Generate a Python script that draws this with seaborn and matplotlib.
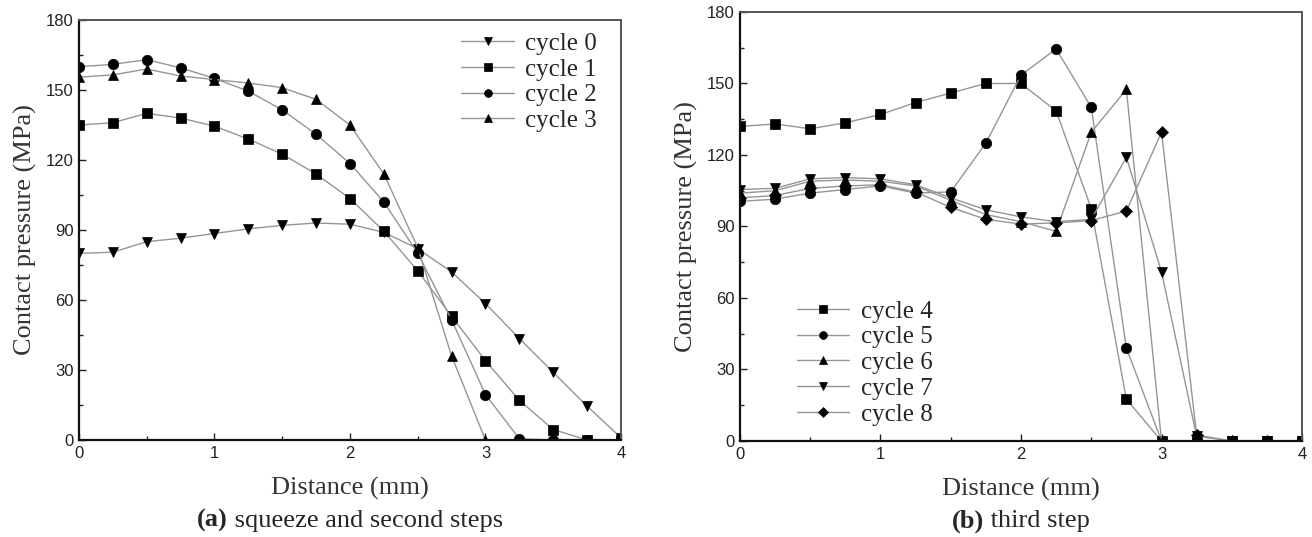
# Contact pressure along the distance for cycles 0-8, two panels

import seaborn as sns
import matplotlib.pyplot as plt
from matplotlib.ticker import MultipleLocator

distance = [0, 0.25, 0.5, 0.75, 1.0, 1.25, 1.5, 1.75, 2.0,
            2.25, 2.5, 2.75, 3.0, 3.25, 3.5, 3.75, 4.0]

# panel (a): squeeze and second steps
cycle0 = [80, 80.5, 85, 86.5, 88.5, 90.5, 92, 93, 92.5, 89, 82, 72, 58.5, 43.5, 29, 14.5, 1]
cycle1 = [135, 136, 140, 138, 134.5, 129, 122.5, 114, 103.5, 89.5, 72.5, 53, 34, 17, 4.5, 0, 0]
cycle2 = [160, 161, 163, 159.5, 155, 149.5, 141.5, 131, 118.5, 102, 80, 51.5, 19.5, 0.5, 0, 0, 0]
cycle3 = [155.5, 156.5, 159, 156, 154.5, 153, 151, 146, 135, 114, 82.5, 36, 0, 0, 0, 0, 0]

# panel (b): third step
cycle4 = [132, 133, 131, 133.5, 137, 142, 146, 150, 150, 138.5, 97.5, 17.5, 0, 0, 0, 0, 0]
cycle5 = [100.5, 101.5, 104, 105.5, 107, 104, 104.5, 125, 153.5, 164.5, 140, 39, 0, 0, 0, 0, 0]
cycle6 = [104, 105, 109, 109.5, 109, 107, 101, 95, 92, 88, 129.5, 147.5, 0, 0, 0, 0, 0]
cycle7 = [105.5, 106, 110, 110.5, 110, 107.5, 102, 97, 94, 92, 93, 119, 71, 2, 0, 0, 0]
cycle8 = [102, 103, 106, 107, 107.5, 104.5, 98, 93, 91, 91.5, 92.5, 96.5, 129.5, 2.5, 0, 0, 0]

labels_a = ["cycle 0", "cycle 1", "cycle 2", "cycle 3"]
labels_b = ["cycle 4", "cycle 5", "cycle 6", "cycle 7", "cycle 8"]

sns.set_style("ticks")
plt.rcParams['font.family'] = ['Liberation Sans', 'DejaVu Sans']
serif = ['Liberation Serif', 'DejaVu Serif']

fig = plt.figure(figsize=(13.12, 5.37), dpi=100)
ax1 = fig.add_axes([0.0602, 0.1806, 0.4131, 0.7821])
ax2 = fig.add_axes([0.564, 0.1788, 0.4284, 0.7989])


def draw(ax, series, markers, labels):
    for y, m, lab in zip(series, markers, labels):
        sns.lineplot(x=distance, y=y, ax=ax, color='#959595', lw=1.0,
                     marker=m, markersize=6.5 if m == 'D' else 7.5,
                     markerfacecolor='black', markeredgecolor='black',
                     markeredgewidth=0.5, label=lab)
    ax.set_xlim(0, 4)
    ax.set_ylim(0, 180)
    ax.xaxis.set_major_locator(MultipleLocator(1))
    ax.xaxis.set_minor_locator(MultipleLocator(0.5))
    ax.yaxis.set_major_locator(MultipleLocator(30))
    ax.yaxis.set_minor_locator(MultipleLocator(15))
    ax.tick_params(which='both', direction='in', colors='#222222', labelsize=12, pad=4)
    ax.tick_params(which='major', length=5, width=1)
    ax.tick_params(which='minor', length=3, width=1)
    for side in ['left', 'bottom']:
        ax.spines[side].set_linewidth(1.6)
        ax.spines[side].set_color('#111111')
    for side in ['top', 'right']:
        ax.spines[side].set_linewidth(1.4)
        ax.spines[side].set_color('#555555')
    ax.set_xlabel("Distance (mm)", family=serif, fontsize=19, color='#333333', labelpad=12)
    ax.set_ylabel("Contact pressure (MPa)", family=serif, fontsize=19, color='#333333', labelpad=6)


draw(ax1, [cycle0, cycle1, cycle2, cycle3], ['v', 's', 'o', '^'], labels_a)
draw(ax2, [cycle4, cycle5, cycle6, cycle7, cycle8], ['s', 'o', '^', 'v', 'D'], labels_b)

leg_kw = dict(frameon=False, prop={'family': serif, 'size': 18}, handlelength=2.1,
              handletextpad=0.45, labelspacing=0.13, markerscale=0.75, borderpad=0.2)
ax1.legend(loc='upper right', bbox_to_anchor=(0.988, 1.012), **leg_kw)
ax2.legend(loc='lower left', bbox_to_anchor=(0.07, -0.005), **leg_kw)

# captions with bold panel letter
fig.canvas.draw()
renderer = fig.canvas.get_renderer()
for ax, letter, rest in [(ax1, "(a)", " squeeze and second steps"), (ax2, "(b)", " third step")]:
    box = ax.get_position()
    xc = (box.x0 + box.x1) / 2
    t1 = fig.text(0, 0.03, letter, family=serif, fontsize=19, weight='bold', va='center')
    t2 = fig.text(0, 0.03, rest, family=serif, fontsize=19, va='center')
    w1 = t1.get_window_extent(renderer).width / fig.bbox.width
    w2 = t2.get_window_extent(renderer).width / fig.bbox.width
    x0 = xc - (w1 + w2) / 2
    t1.set_x(x0)
    t2.set_x(x0 + w1)

fig.savefig("out.png", dpi=100)
